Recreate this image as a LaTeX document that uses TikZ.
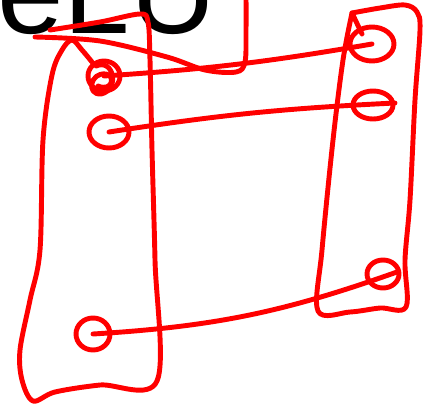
\documentclass[tikz,border=0pt]{standalone}
\usepackage{fontspec}
\setmainfont{Liberation Sans}
\usetikzlibrary{shapes.geometric}

\begin{document}
\begin{tikzpicture}[x=0.5mm, y=-0.5mm,
    pen/.style={draw=red, line width=7pt, line cap=round, line join=round},
    blob/.style={pen, ellipse, inner sep=0pt}]
  \useasboundingbox (0,0) rectangle (423,409);
  \clip (0,0) rectangle (423,409);
  \node[anchor=base west, inner sep=0pt, font=\fontsize{170}{170}\selectfont] (title) at (-3,33) {eLU};
  % left column
  \draw[pen] plot[smooth, tension=0.55] coordinates {(50,30) (100,22) (140,14) (148,22) (150,60) (152,150) (155,260) (157,381)
    (100,385) (55,392) (33,401) (22,380) (20,350) (30,300) (40,250) (43,140) (52,75) (62,50) (72,40) (82,50) (92,62)};
  % line round the title
  \draw[pen] plot[smooth, tension=0.55] coordinates {(35,37) (100,41) (167,57) (205,70) (236,72) (245,62) (246,30) (246,-5)};
  % right column
  \draw[pen] plot[smooth, tension=0.55] coordinates {(352,13) (380,8) (405,5) (417,12) (420,30) (415,100) (410,200) (405,260)
    (406,307) (380,308) (350,312) (318,311) (322,250) (333,140) (343,60) (352,13)};
  \draw[pen] (352,13) -- (362,34);
  % points
  \foreach \nm/\xx/\yy/\ww/\hh in {knot/104/76/16/15, la/109/132/20/16, lb/93/334/17/16,
                                   ra/372/44/22/17, rb/373/105/20/14, rc/383/274/16/14}
    \node[blob, minimum width=\ww mm, minimum height=\hh mm] (\nm) at (\xx,\yy) {};
  \draw[pen] (96,66) .. controls (114,58) and (120,90) .. (101,94) .. controls (86,95) and (90,72) .. (106,74)
    .. controls (116,76) and (112,92) .. (98,86);
  \coordinate (rbEnd) at (395,103);
  \coordinate (rcEnd) at (397,272);
  % links
  \draw[pen] (knot.center) to[bend right=3] (ra.center);
  \draw[pen] (la.center) to[bend left=3] (rbEnd);
  \draw[pen] (lb.center) to[bend right=8] (rcEnd);
\end{tikzpicture}
\end{document}
